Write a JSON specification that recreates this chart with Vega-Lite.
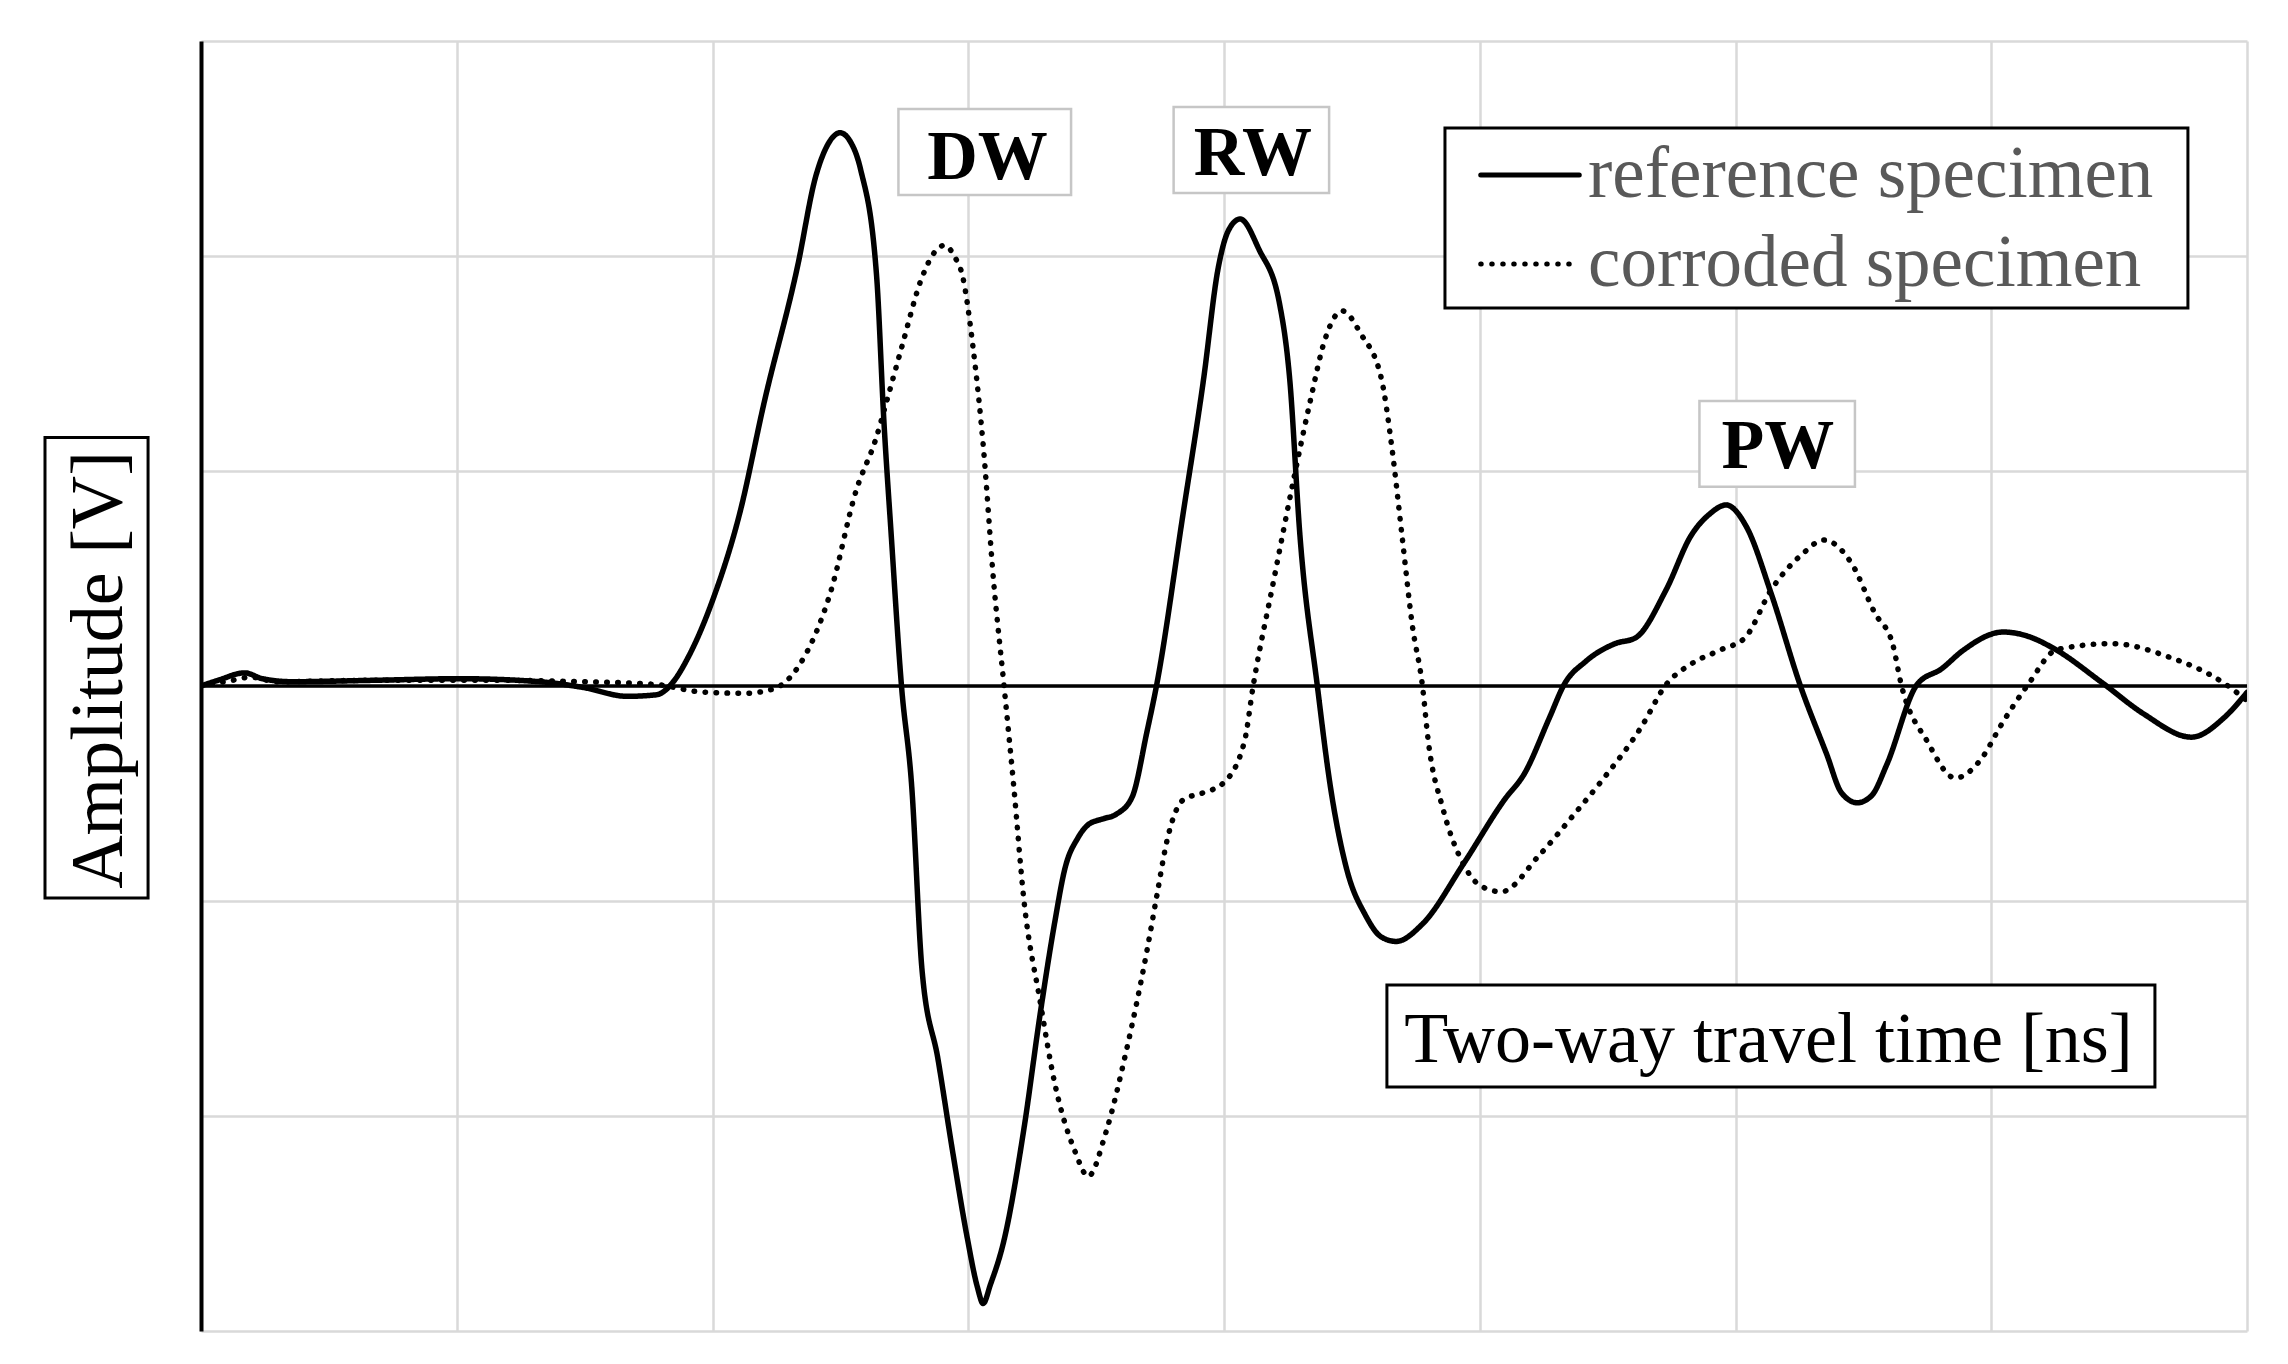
{
  "$schema": "https://vega.github.io/schema/vega-lite/v6.json",
  "width": 2046,
  "height": 1290,
  "autosize": "none",
  "padding": {"left": 201, "top": 41, "right": 41, "bottom": 33},
  "background": "white",
  "config": {"view": {"stroke": null}, "font": "Liberation Serif"},
  "datasets": {
    "curves": [
      {"series":"reference specimen","t":0,"a":0},{"series":"reference specimen","t":0.068,"a":0.027},{"series":"reference specimen","t":0.171,"a":0.061},{"series":"reference specimen","t":0.24,"a":0.034},{"series":"reference specimen","t":0.354,"a":0.02},{"series":"reference specimen","t":0.696,"a":0.027},{"series":"reference specimen","t":1.01,"a":0.034},{"series":"reference specimen","t":1.324,"a":0.02},{"series":"reference specimen","t":1.495,"a":-0.007},{"series":"reference specimen","t":1.666,"a":-0.048},{"series":"reference specimen","t":1.78,"a":-0.041},{"series":"reference specimen","t":1.843,"a":0.014},{"series":"reference specimen","t":1.906,"a":0.136},{"series":"reference specimen","t":2.003,"a":0.407},{"series":"reference specimen","t":2.106,"a":0.801},{"series":"reference specimen","t":2.203,"a":1.324},{"series":"reference specimen","t":2.334,"a":1.96},{"series":"reference specimen","t":2.402,"a":2.363},{"series":"reference specimen","t":2.454,"a":2.525},{"series":"reference specimen","t":2.499,"a":2.573},{"series":"reference specimen","t":2.539,"a":2.532},{"series":"reference specimen","t":2.579,"a":2.403},{"series":"reference specimen","t":2.642,"a":1.901},{"series":"reference specimen","t":2.67,"a":1.236},{"series":"reference specimen","t":2.699,"a":0.699},{"series":"reference specimen","t":2.739,"a":0},{"series":"reference specimen","t":2.779,"a":-0.468},{"series":"reference specimen","t":2.819,"a":-1.317},{"series":"reference specimen","t":2.882,"a":-1.738},{"series":"reference specimen","t":2.939,"a":-2.166},{"series":"reference specimen","t":2.996,"a":-2.566},{"series":"reference specimen","t":3.036,"a":-2.797},{"series":"reference specimen","t":3.058,"a":-2.872},{"series":"reference specimen","t":3.087,"a":-2.783},{"series":"reference specimen","t":3.138,"a":-2.587},{"series":"reference specimen","t":3.218,"a":-2.057},{"series":"reference specimen","t":3.281,"a":-1.527},{"series":"reference specimen","t":3.338,"a":-1.1},{"series":"reference specimen","t":3.378,"a":-0.849},{"series":"reference specimen","t":3.429,"a":-0.706},{"series":"reference specimen","t":3.469,"a":-0.645},{"series":"reference specimen","t":3.526,"a":-0.618},{"series":"reference specimen","t":3.578,"a":-0.597},{"series":"reference specimen","t":3.641,"a":-0.516},{"series":"reference specimen","t":3.698,"a":-0.217},{"series":"reference specimen","t":3.737,"a":0.007},{"series":"reference specimen","t":3.84,"a":0.801},{"series":"reference specimen","t":3.92,"a":1.426},{"series":"reference specimen","t":3.977,"a":1.942},{"series":"reference specimen","t":4.017,"a":2.118},{"series":"reference specimen","t":4.063,"a":2.172},{"series":"reference specimen","t":4.137,"a":2.03},{"series":"reference specimen","t":4.217,"a":1.779},{"series":"reference specimen","t":4.257,"a":1.426},{"series":"reference specimen","t":4.297,"a":0.699},{"series":"reference specimen","t":4.365,"a":0},{"series":"reference specimen","t":4.416,"a":-0.468},{"series":"reference specimen","t":4.479,"a":-0.849},{"series":"reference specimen","t":4.553,"a":-1.066},{"series":"reference specimen","t":4.616,"a":-1.168},{"series":"reference specimen","t":4.673,"a":-1.188},{"series":"reference specimen","t":4.776,"a":-1.107},{"series":"reference specimen","t":4.936,"a":-0.828},{"series":"reference specimen","t":5.096,"a":-0.53},{"series":"reference specimen","t":5.175,"a":-0.407},{"series":"reference specimen","t":5.272,"a":-0.149},{"series":"reference specimen","t":5.33,"a":0.007},{"series":"reference specimen","t":5.415,"a":0.115},{"series":"reference specimen","t":5.529,"a":0.197},{"series":"reference specimen","t":5.609,"a":0.224},{"series":"reference specimen","t":5.729,"a":0.448},{"series":"reference specimen","t":5.826,"a":0.699},{"series":"reference specimen","t":5.9,"a":0.801},{"series":"reference specimen","t":5.963,"a":0.842},{"series":"reference specimen","t":6.043,"a":0.74},{"series":"reference specimen","t":6.14,"a":0.428},{"series":"reference specimen","t":6.254,"a":0},{"series":"reference specimen","t":6.357,"a":-0.319},{"series":"reference specimen","t":6.414,"a":-0.496},{"series":"reference specimen","t":6.476,"a":-0.543},{"series":"reference specimen","t":6.533,"a":-0.509},{"series":"reference specimen","t":6.591,"a":-0.367},{"series":"reference specimen","t":6.71,"a":0.007},{"series":"reference specimen","t":6.807,"a":0.081},{"series":"reference specimen","t":6.887,"a":0.163},{"series":"reference specimen","t":7.047,"a":0.251},{"series":"reference specimen","t":7.144,"a":0.231},{"series":"reference specimen","t":7.241,"a":0.177},{"series":"reference specimen","t":7.435,"a":0.014},{"series":"reference specimen","t":7.595,"a":-0.129},{"series":"reference specimen","t":7.783,"a":-0.238},{"series":"reference specimen","t":7.909,"a":-0.149},{"series":"reference specimen","t":8,"a":-0.03},
      {"series":"corroded specimen","t":0,"a":0},{"series":"corroded specimen","t":0.126,"a":0.027},{"series":"corroded specimen","t":0.194,"a":0.041},{"series":"corroded specimen","t":0.297,"a":0.02},{"series":"corroded specimen","t":0.696,"a":0.027},{"series":"corroded specimen","t":1.096,"a":0.027},{"series":"corroded specimen","t":1.495,"a":0.02},{"series":"corroded specimen","t":1.78,"a":0.007},{"series":"corroded specimen","t":1.951,"a":-0.027},{"series":"corroded specimen","t":2.123,"a":-0.034},{"series":"corroded specimen","t":2.237,"a":-0.014},{"series":"corroded specimen","t":2.34,"a":0.098},{"series":"corroded specimen","t":2.46,"a":0.43},{"series":"corroded specimen","t":2.562,"a":0.91},{"series":"corroded specimen","t":2.64,"a":1.154},{"series":"corroded specimen","t":2.68,"a":1.32},{"series":"corroded specimen","t":2.739,"a":1.572},{"series":"corroded specimen","t":2.819,"a":1.9},{"series":"corroded specimen","t":2.87,"a":2.02},{"series":"corroded specimen","t":2.908,"a":2.05},{"series":"corroded specimen","t":2.945,"a":2.0},{"series":"corroded specimen","t":2.979,"a":1.9},{"series":"corroded specimen","t":3.019,"a":1.572},{"series":"corroded specimen","t":3.059,"a":1.113},{"series":"corroded specimen","t":3.099,"a":0.489},{"series":"corroded specimen","t":3.14,"a":0},{"series":"corroded specimen","t":3.178,"a":-0.468},{"series":"corroded specimen","t":3.218,"a":-1.0},{"series":"corroded specimen","t":3.281,"a":-1.466},{"series":"corroded specimen","t":3.338,"a":-1.847},{"series":"corroded specimen","t":3.418,"a":-2.166},{"series":"corroded specimen","t":3.469,"a":-2.281},{"series":"corroded specimen","t":3.538,"a":-2.077},{"series":"corroded specimen","t":3.618,"a":-1.697},{"series":"corroded specimen","t":3.698,"a":-1.236},{"series":"corroded specimen","t":3.737,"a":-0.978},{"series":"corroded specimen","t":3.777,"a":-0.72},{"series":"corroded specimen","t":3.84,"a":-0.53},{"series":"corroded specimen","t":3.92,"a":-0.496},{"series":"corroded specimen","t":3.994,"a":-0.455},{"series":"corroded specimen","t":4.08,"a":-0.258},{"series":"corroded specimen","t":4.114,"a":0},{"series":"corroded specimen","t":4.194,"a":0.489},{"series":"corroded specimen","t":4.274,"a":0.971},{"series":"corroded specimen","t":4.337,"a":1.324},{"series":"corroded specimen","t":4.394,"a":1.609},{"series":"corroded specimen","t":4.462,"a":1.745},{"series":"corroded specimen","t":4.536,"a":1.636},{"series":"corroded specimen","t":4.616,"a":1.426},{"series":"corroded specimen","t":4.656,"a":1.113},{"series":"corroded specimen","t":4.696,"a":0.699},{"series":"corroded specimen","t":4.736,"a":0.285},{"series":"corroded specimen","t":4.776,"a":0},{"series":"corroded specimen","t":4.799,"a":-0.258},{"series":"corroded specimen","t":4.856,"a":-0.57},{"series":"corroded specimen","t":4.936,"a":-0.828},{"series":"corroded specimen","t":5.004,"a":-0.93},{"series":"corroded specimen","t":5.084,"a":-0.957},{"series":"corroded specimen","t":5.232,"a":-0.788},{"series":"corroded specimen","t":5.369,"a":-0.597},{"series":"corroded specimen","t":5.472,"a":-0.448},{"series":"corroded specimen","t":5.632,"a":-0.19},{"series":"corroded specimen","t":5.729,"a":0.007},{"series":"corroded specimen","t":5.826,"a":0.102},{"series":"corroded specimen","t":5.946,"a":0.17},{"series":"corroded specimen","t":6.037,"a":0.224},{"series":"corroded specimen","t":6.14,"a":0.448},{"series":"corroded specimen","t":6.259,"a":0.611},{"series":"corroded specimen","t":6.345,"a":0.679},{"series":"corroded specimen","t":6.454,"a":0.57},{"series":"corroded specimen","t":6.545,"a":0.339},{"series":"corroded specimen","t":6.614,"a":0.197},{"series":"corroded specimen","t":6.648,"a":0.007},{"series":"corroded specimen","t":6.75,"a":-0.258},{"series":"corroded specimen","t":6.859,"a":-0.428},{"series":"corroded specimen","t":6.961,"a":-0.339},{"series":"corroded specimen","t":7.041,"a":-0.177},{"series":"corroded specimen","t":7.144,"a":0.007},{"series":"corroded specimen","t":7.258,"a":0.17},{"series":"corroded specimen","t":7.475,"a":0.197},{"series":"corroded specimen","t":7.692,"a":0.136},{"series":"corroded specimen","t":7.909,"a":0.014},{"series":"corroded specimen","t":8,"a":-0.068}
    ],
    "baseline": [{"t": 0, "a": 0}, {"t": 8, "a": 0}],
    "waveBoxes": [
      {"label":"DW","x1":2.727,"x2":3.402,"y1":2.684,"y2":2.284,"tx":3.075,"ty":2.36},
      {"label":"RW","x1":3.803,"x2":4.411,"y1":2.693,"y2":2.293,"tx":4.113,"ty":2.377},
      {"label":"PW","x1":5.859,"x2":6.467,"y1":1.326,"y2":0.927,"tx":6.166,"ty":1.014}
    ],
    "titleBoxes": [
      {"label":"Two-way travel time [ns]","x1":4.637,"x2":7.64,"y1":-1.391,"y2":-1.865,"tx":6.129,"ty":-1.749},
      {"label":"Amplitude [V]","x1":-0.61,"x2":-0.207,"y1":1.156,"y2":-0.986,"tx":-0.309,"ty":0.0745},
      {"label":"legend","x1":4.864,"x2":7.769,"y1":2.595,"y2":1.758}
    ]
  },
  "encoding": {
    "x": {"type": "quantitative", "scale": {"domain": [0, 8], "nice": false, "zero": false},
          "axis": {"values": [0,1,2,3,4,5,6,7,8], "grid": true, "gridColor": "#d9d9d9", "gridWidth": 2.5, "labels": false, "ticks": false, "domain": false, "title": null}},
    "y": {"type": "quantitative", "scale": {"domain": [-3, 3], "nice": false, "zero": false},
          "axis": {"values": [-3,-2,-1,0,1,2,3], "grid": true, "gridColor": "#d9d9d9", "gridWidth": 2.5, "labels": false, "ticks": false, "domain": true, "domainColor": "black", "domainWidth": 4, "title": null}}
  },
  "layer": [
    {
      "data": {"name": "baseline"},
      "mark": {"type": "line", "color": "black", "strokeWidth": 3.5},
      "encoding": {"x": {"field": "t"}, "y": {"field": "a"}}
    },
    {
      "data": {"name": "waveBoxes"},
      "mark": {"type": "rect", "fill": "white", "stroke": "#c6c6c6", "strokeWidth": 2.5},
      "encoding": {
        "x": {"field": "x1"},
        "x2": {"field": "x2"},
        "y": {"field": "y1"},
        "y2": {"field": "y2"}
      }
    },
    {
      "data": {"name": "titleBoxes"},
      "mark": {"type": "rect", "fill": "white", "stroke": "black", "strokeWidth": 3},
      "encoding": {
        "x": {"field": "x1"},
        "x2": {"field": "x2"},
        "y": {"field": "y1"},
        "y2": {"field": "y2"}
      }
    },
    {
      "data": {"name": "curves"},
      "mark": {"type": "line", "interpolate": "monotone", "strokeWidth": 5.5, "color": "black", "strokeCap": "round", "strokeJoin": "round", "clip": true},
      "encoding": {
        "x": {"field": "t"},
        "y": {"field": "a"},
        "order": {"field": "t", "type": "quantitative"},
        "strokeDash": {
          "field": "series", "type": "nominal",
          "scale": {"domain": ["reference specimen", "corroded specimen"], "range": [[1, 0], [0.5, 10.5]]},
          "legend": {
            "orient": "none", "legendX": 1244, "legendY": 87, "title": null, "direction": "vertical",
            "symbolType": "M -1.35 0 L 1.35 0", "symbolSize": 5329, "symbolStrokeWidth": 5, "symbolStrokeColor": "black", "symbolFillColor": "transparent",
            "labelFont": "Liberation Serif", "labelFontSize": 73, "labelColor": "#595959", "labelLimit": 0,
            "padding": 8, "rowPadding": 13, "symbolOffset": 38, "labelOffset": 19,
            "strokeColor": "transparent", "fillColor": "transparent",
            "encode": {
              "symbols": {"update": {"strokeCap": {"value": "round"}}}
            }
          }
        }
      }
    },
    {
      "data": {"name": "waveBoxes"},
      "mark": {"type": "text", "font": "Liberation Serif", "fontSize": 70, "fontWeight": "bold", "color": "black", "align": "center", "baseline": "alphabetic"},
      "encoding": {
        "x": {"field": "tx"},
        "y": {"field": "ty"},
        "text": {"field": "label"}
      }
    },
    {
      "data": {"name": "titleBoxes"},
      "transform": [{"filter": "datum.label === 'Two-way travel time [ns]'"}],
      "mark": {"type": "text", "font": "Liberation Serif", "fontSize": 72, "color": "black", "align": "center", "baseline": "alphabetic"},
      "encoding": {
        "x": {"field": "tx"},
        "y": {"field": "ty"},
        "text": {"field": "label"}
      }
    },
    {
      "data": {"name": "titleBoxes"},
      "transform": [{"filter": "datum.label === 'Amplitude [V]'"}],
      "mark": {"type": "text", "font": "Liberation Serif", "fontSize": 74, "color": "black", "align": "center", "baseline": "alphabetic", "angle": 270},
      "encoding": {
        "x": {"field": "tx"},
        "y": {"field": "ty"},
        "text": {"field": "label"}
      }
    }
  ]
}
